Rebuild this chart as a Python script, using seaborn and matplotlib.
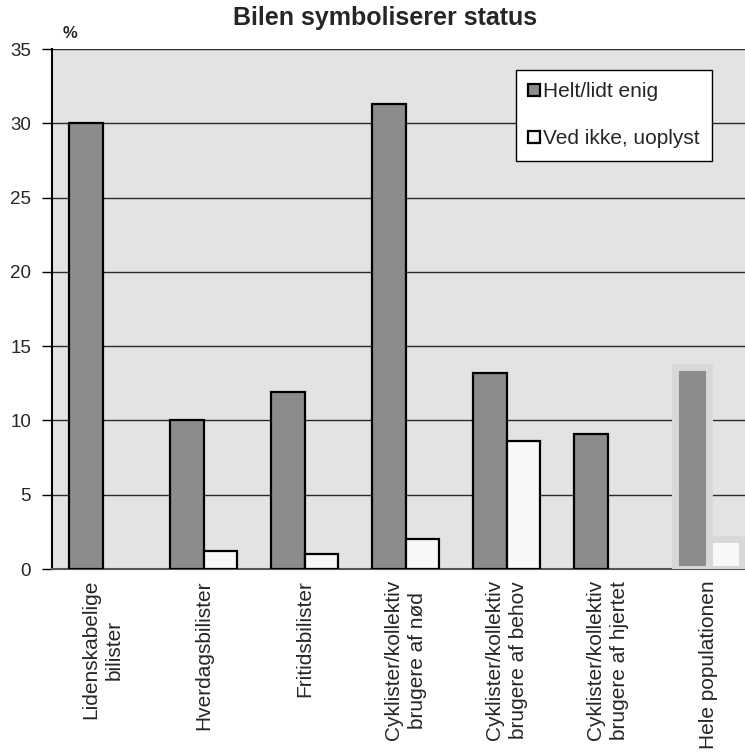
import pandas as pd
import seaborn as sns
import matplotlib.pyplot as plt

kategorier = ['Lidenskabelige\nbilister', 'Hverdagsbilister', 'Fritidsbilister',
              'Cyklister/kollektiv\nbrugere af nød', 'Cyklister/kollektiv\nbrugere af behov',
              'Cyklister/kollektiv\nbrugere af hjertet', 'Hele populationen']
enig = [30.0, 10.0, 11.9, 31.3, 13.2, 9.1, 13.6]
ved_ikke = [None, 1.2, 1.0, 2.0, 8.6, None, 2.0]
serier = ['Helt/lidt enig', 'Ved ikke, uoplyst']

df = pd.DataFrame({
    'kategori': kategorier * 2,
    'serie': [serier[0]] * len(kategorier) + [serier[1]] * len(kategorier),
    'pct': enig + ved_ikke,
})

sns.set_theme(style='white')
plt.rcParams['font.family'] = ['Liberation Sans', 'DejaVu Sans']

fig = plt.figure(figsize=(7.45, 7.55), dpi=100)
ax = fig.add_axes([52 / 745, 186 / 755, 707 / 745, 520 / 755])
ax.set_facecolor('#e3e3e3')

sns.barplot(data=df, x='kategori', y='pct', hue='serie', order=kategorier, hue_order=serier,
            palette=['#8c8c8c', '#f8f8f8'], width=0.67, edgecolor='black', linewidth=1.6,
            errorbar=None, ax=ax, zorder=3)

# Hele populationen er tegnet uden kant, med lys ramme
for c in ax.containers:
    p = c[-1]
    p.set_edgecolor('#d8d8d8')
    p.set_linewidth(5)

ax.set_ylim(0, 35)
ax.set_xlim(-0.5, 6.5)
ax.set_yticks(range(0, 36, 5))
ax.grid(axis='y', color='#2a2a2a', linewidth=1, zorder=0)
ax.set_axisbelow(True)
for s in ['top', 'right']:
    ax.spines[s].set_visible(False)
ax.spines['left'].set_color('black')
ax.spines['left'].set_linewidth(1.5)
ax.spines['bottom'].set_color('#555555')
ax.spines['bottom'].set_linewidth(1.5)
ax.tick_params(axis='y', direction='out', length=7, width=1, color='black', labelsize=13.5,
               left=True, pad=8)
ax.tick_params(axis='x', length=0, labelsize=15, pad=8)
ax.set_xticks(range(len(kategorier)))
ax.set_xticklabels(kategorier, rotation=90, ha='center', va='top', multialignment='center',
                   linespacing=1.3)
ax.set_xlabel('')
ax.set_ylabel('')

fig.text(385 / 745, 1 - 18 / 755, 'Bilen symboliserer status', ha='center', va='center',
         fontsize=18, fontweight='bold')
fig.text(70 / 745, 1 - 33 / 755, '%', ha='center', va='center', fontsize=12, fontweight='bold')

leg = ax.legend(loc='upper right', bbox_to_anchor=(0.9335, 0.96), borderaxespad=0, fontsize=15,
                frameon=True, fancybox=False, edgecolor='black', facecolor='white', framealpha=1,
                labelspacing=1.35, handlelength=0.55, handleheight=0.55, handletextpad=0.15,
                borderpad=0.6)
leg.get_frame().set_linewidth(1)
for h in leg.legend_handles:
    h.set_edgecolor('black')
    h.set_linewidth(1.6)

plt.savefig('out.png', dpi=100)
